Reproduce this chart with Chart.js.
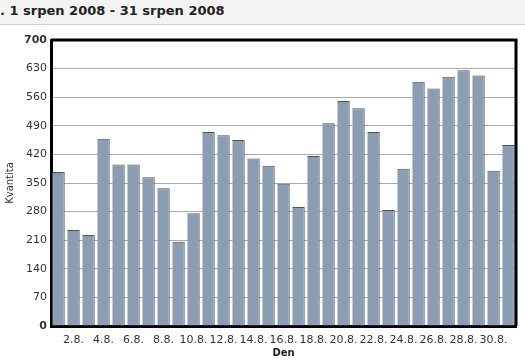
<!DOCTYPE html>
<html>
<head>
<meta charset="utf-8">
<script src="https://cdn.jsdelivr.net/npm/chart.js@4/dist/chart.umd.min.js"></script>
<style>
  body { margin: 0; background: #fff; }
  #hlava { position: absolute; left: 0; top: 0; width: 525px; height: 24px; background: #f3f3f3; border-bottom: 1px solid #d0d0d0;
           font: bold 13px "DejaVu Sans", Verdana, sans-serif; color: #222; line-height: 22px; white-space: nowrap; }
  #graf { position: absolute; left: 0; top: 0; }
</style>
</head>
<body>
<canvas id="graf" width="525" height="363"></canvas>
<div id="hlava">. 1 srpen 2008 - 31 srpen 2008</div>
<script>
// dny v srpnu a prodane kusy
var dny = [];
for (var d = 1; d <= 31; d++) { dny.push(d + '.8.'); }
var kvantita = [377, 235, 223, 458, 395, 395, 364, 337, 206, 276, 475, 467, 455, 410, 392, 348,
                291, 416, 496, 551, 533, 475, 284, 385, 598, 581, 610, 626, 613, 380, 443];
var osaY = [0, 70, 140, 210, 280, 350, 420, 490, 560, 630, 700];

// ramecek nahore a vpravo
var ramecek = {
    id: 'ramecek',
    afterDatasetsDraw: function(chart) {
        var a = chart.chartArea;
        var c = chart.ctx;
        c.save();
        c.strokeStyle = '#000';
        c.lineWidth = 3;
        c.beginPath();
        c.moveTo(a.left, a.top);
        c.lineTo(a.right, a.top);
        c.lineTo(a.right, a.bottom);
        c.stroke();
        c.restore();
    }
};

var canvas = document.getElementById('graf');
new Chart(canvas, {
    type: 'bar',
    data: {
        labels: dny,
        datasets: [{
            data: kvantita,
            backgroundColor: '#8b9db2',
            borderColor: '#4a535e',
            borderWidth: { top: 1, right: 1, left: 0, bottom: 0 },
            borderSkipped: 'bottom',
            barPercentage: 0.83,
            categoryPercentage: 1
        }]
    },
    options: {
        responsive: false,
        animation: false,
        layout: { padding: { top: 40, right: 9, left: 0, bottom: 0 } },
        plugins: { legend: { display: false }, tooltip: { enabled: false } },
        scales: {
            x: {
                grid: { display: false },
                border: { color: '#000', width: 3 },
                ticks: {
                    autoSkip: false, maxRotation: 0, minRotation: 0, padding: 0,
                    color: '#333', font: { family: 'DejaVu Sans', size: 11 },
                    callback: function(v, i) { return i % 2 == 1 ? dny[i] : ''; }
                },
                title: { display: true, text: 'Den', color: '#222', padding: { top: 0, bottom: 4 },
                         font: { family: 'DejaVu Sans', size: 10, weight: 'bold' } },
                afterFit: function(s) { s.height = 37; }
            },
            y: {
                min: 0, max: 700,
                afterBuildTicks: function(s) { s.ticks = osaY.map(function(v) { return { value: v }; }); },
                grid: { color: '#aaa', lineWidth: 1, drawTicks: false },
                border: { color: '#000', width: 3 },
                ticks: {
                    padding: 4, color: '#333',
                    font: function(ctx) {
                        var b = ctx.tick && (ctx.tick.value == 0 || ctx.tick.value == 700);
                        return { family: 'DejaVu Sans', size: 11, weight: b ? 'bold' : 'normal' };
                    }
                },
                title: { display: true, text: 'Kvantita', color: '#333', padding: { top: 4, bottom: 0 },
                         font: { family: 'DejaVu Sans', size: 10 } },
                afterFit: function(s) { s.width = 51; }
            }
        }
    },
    plugins: [ramecek]
});
</script>
</body>
</html>
